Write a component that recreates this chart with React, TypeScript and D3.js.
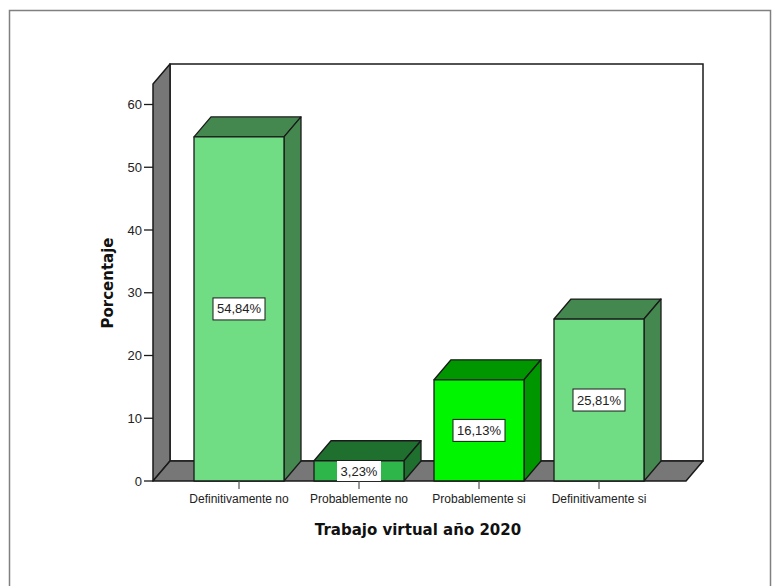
import React from "react";
import * as d3 from "d3";

const categories = ["Definitivamente no", "Probablemente no", "Probablemente si", "Definitivamente si"];
const values = [54.84, 3.23, 16.13, 25.81];
const valueLabels = ["54,84%", "3,23%", "16,13%", "25,81%"];
const frontColors = ["#70dd85", "#2fb64b", "#00f500", "#70dd85"];
const sideColors = ["#448850", "#1f6f2f", "#009600", "#448850"];
const yTicks = [0, 10, 20, 30, 40, 50, 60];

const W = 772, H = 586;
const y = d3.scaleLinear().domain([0, 60]).range([481, 104.5]);
const x = d3.scalePoint<string>().domain(categories).range([239, 599]);
const barW = 90;
const dx = 17, dy = -20;
const left = 153, right = 686, top = 84, base = y(0);
const ink = "#1a1a1a";
const pts = (p: number[][]) => p.map((q) => q.join(",")).join(" ");

export default function App() {
  return (
    <svg width={W} height={H} style={{ position: "absolute", left: 0, top: 0, background: "#fff" }}>
      <rect x={9.5} y={10.5} width={761} height={600} fill="#fff" stroke="#808080" strokeWidth={1.5} />
      {/* back wall */}
      <rect x={left + dx} y={top + dy} width={right - left} height={base - top} fill="#fff" stroke={ink} strokeWidth={1.5} />
      {/* left wall */}
      <polygon points={pts([[left, top], [left + dx, top + dy], [left + dx, base + dy], [left, base]])} fill="#777" stroke={ink} strokeWidth={1.5} strokeLinejoin="round" />
      {/* floor */}
      <polygon points={pts([[left, base], [left + dx, base + dy], [right + dx, base + dy], [right, base]])} fill="#777" stroke={ink} strokeWidth={1.5} strokeLinejoin="round" />
      {/* y axis */}
      {yTicks.map((t) => (
        <g key={t}>
          <line x1={144} x2={left} y1={y(t)} y2={y(t)} stroke={ink} strokeWidth={1.3} />
          <text x={142} y={y(t) + 4.5} textAnchor="end" fontFamily="'Liberation Sans'" fontSize={13} fill="#222">{t}</text>
        </g>
      ))}
      {/* bars */}
      {categories.map((c, i) => {
        const cx = x(c)!;
        const x0 = cx - barW / 2, x1 = cx + barW / 2, yt = y(values[i]);
        return (
          <g key={c} stroke={ink} strokeWidth={1.3} strokeLinejoin="round">
            <polygon points={pts([[x0, yt], [x0 + dx, yt + dy], [x1 + dx, yt + dy], [x1, yt]])} fill={sideColors[i]} />
            <polygon points={pts([[x1, yt], [x1 + dx, yt + dy], [x1 + dx, base + dy], [x1, base]])} fill={sideColors[i]} />
            <rect x={x0} y={yt} width={barW} height={base - yt} fill={frontColors[i]} />
          </g>
        );
      })}
      {/* x ticks and labels */}
      {categories.map((c) => (
        <g key={c}>
          <line x1={x(c)!} x2={x(c)!} y1={base} y2={base + 8} stroke="#555" strokeWidth={1.2} />
          <text x={x(c)!} y={503} textAnchor="middle" fontFamily="'Liberation Sans'" fontSize={12} fill="#222">{c}</text>
        </g>
      ))}
      {/* value labels */}
      {categories.map((c, i) => {
        const cx = x(c)!;
        const cy = i === 1 ? 471 : y(values[i] / 2);
        const bw = i === 1 ? 44 : 52;
        return (
          <g key={c}>
            {i === 1
              ? <rect x={cx - bw / 2} y={cy - 10} width={bw} height={20} fill="#fff" />
              : <rect x={cx - bw / 2} y={cy - 11} width={bw} height={22} fill="#fff" stroke={ink} strokeWidth={1} />}
            <text x={cx} y={cy + 4.5} textAnchor="middle" fontFamily="'Liberation Sans'" fontSize={13} fill="#222">{valueLabels[i]}</text>
          </g>
        );
      })}
      <text x={418} y={535} textAnchor="middle" fontFamily="'DejaVu Sans'" fontWeight="bold" fontSize={15} fill="#111">Trabajo virtual año 2020</text>
      <text transform="translate(113,283) rotate(-90)" textAnchor="middle" fontFamily="'DejaVu Sans'" fontWeight="bold" fontSize={15} fill="#111">Porcentaje</text>
    </svg>
  );
}
